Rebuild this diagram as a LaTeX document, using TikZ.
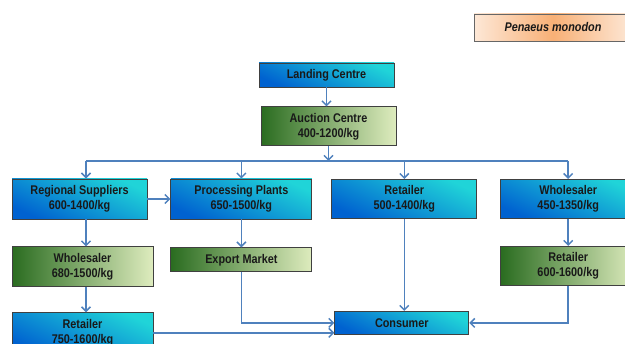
\documentclass[tikz,border=0pt]{standalone}
\usepackage{fontspec}
\newfontfamily\boxfont[FakeStretch=0.86]{Liberation Sans}
\usetikzlibrary{positioning,arrows.meta}
\definecolor{flowblue}{RGB}{79,129,189}
\definecolor{bluedark}{RGB}{0,98,208}
\definecolor{bluecyan}{RGB}{32,212,216}
\definecolor{greendark}{RGB}{42,108,32}
\definecolor{greenpale}{RGB}{222,236,190}
\definecolor{peach}{RGB}{253,232,215}
\definecolor{peachmid}{RGB}{248,176,118}

\begin{document}
\begin{tikzpicture}[x=1pt,y=-1pt,
	box/.style={rectangle, draw=black!75, line width=0.9pt, inner sep=0pt, align=center, text=black!90, font=\boxfont\bfseries\fontsize{12.6}{15}\selectfont},
	bluebox/.style={box, top color=bluecyan, bottom color=bluedark, shading angle=-25},
	greenbox/.style={box, left color=greendark, right color=greenpale},
	namebox/.style={box, draw=black!60, left color=peach, right color=peach, middle color=peachmid, font=\boxfont\bfseries\itshape\fontsize{12.6}{15}\selectfont},
	flow/.style={draw=flowblue, line width=1.5pt, -{Straight Barb[length=4.5pt,width=9pt]}},
	link/.style={draw=flowblue, line width=1.5pt}]
	\clip (0,0) rectangle (625,344);
	\node[namebox, minimum width=158pt, minimum height=27pt] (species) at (553,27.5) {Penaeus monodon};
	\node[bluebox, minimum width=135pt, minimum height=24pt] (landing) at (326.5,75) {Landing Centre};
	\node[greenbox, minimum width=135pt, minimum height=39pt, below=19pt of landing, xshift=2pt] (auction) {Auction Centre\\400-1200/kg};
	\node[bluebox, minimum width=135pt, minimum height=40pt] (regional) at (79.5,199) {Regional Suppliers\\600-1400/kg};
	\node[bluebox, minimum width=141pt, minimum height=40pt, right=23pt of regional] (processing) {Processing Plants\\650-1500/kg};
	\node[bluebox, minimum width=145pt, minimum height=39pt, right=19pt of processing] (retailmid) {Retailer\\500-1400/kg};
	\node[bluebox, minimum width=135pt, minimum height=39pt, right=23pt of retailmid] (wholesaleR) {Wholesaler\\450-1350/kg};
	\node[greenbox, minimum width=141pt, minimum height=40pt, below right=27pt and 0pt of regional.south west] (wholesaleL) {Wholesaler\\680-1500/kg};
	\node[greenbox, minimum width=141pt, minimum height=24pt, below right=28pt and 0pt of processing.south west] (export) {Export Market};
	\node[bluebox, minimum width=141pt, minimum height=40pt, below right=25pt and 0pt of wholesaleL.south west] (retailL) {Retailer\\750-1600/kg};
	\node[greenbox, minimum width=135pt, minimum height=39pt, below right=27pt and 0pt of wholesaleR.south west] (retailR) {Retailer\\600-1600/kg};
	\node[bluebox, minimum width=134pt, minimum height=23pt, below=92pt of retailmid, xshift=-2.5pt] (consumer) {Consumer};

	\coordinate (bus) at (0,161);
	\coordinate (spine) at (86,0);

	\draw[flow] (landing.south) -- (landing.south |- auction.north);
	\draw[flow] (auction.south) -- (auction.south |- bus);
	\draw[link] (spine |- bus) -- (wholesaleR |- bus);
	\draw[flow] (spine |- bus) -- (spine |- regional.north);
	\draw[flow] (processing |- bus) -- (processing.north);
	\draw[flow] (retailmid |- bus) -- (retailmid.north);
	\draw[flow] (wholesaleR |- bus) -- (wholesaleR.north);
	\draw[flow] (regional) -- (processing);
	\draw[flow] (spine |- regional.south) -- (spine |- wholesaleL.north);
	\draw[flow] (spine |- wholesaleL.south) -- (spine |- retailL.north);
	\draw[flow] (processing) -- (export);
	\draw[flow] (wholesaleR) -- (retailR);
	\draw[flow] (export.south) |- (consumer.west);
	\draw[flow] (retailL.east) -- (retailL.east -| consumer.west);
	\draw[flow] (retailmid.south) -- (retailmid.south |- consumer.north);
	\draw[flow] (retailR.south) |- (consumer.east);
\end{tikzpicture}
\end{document}
